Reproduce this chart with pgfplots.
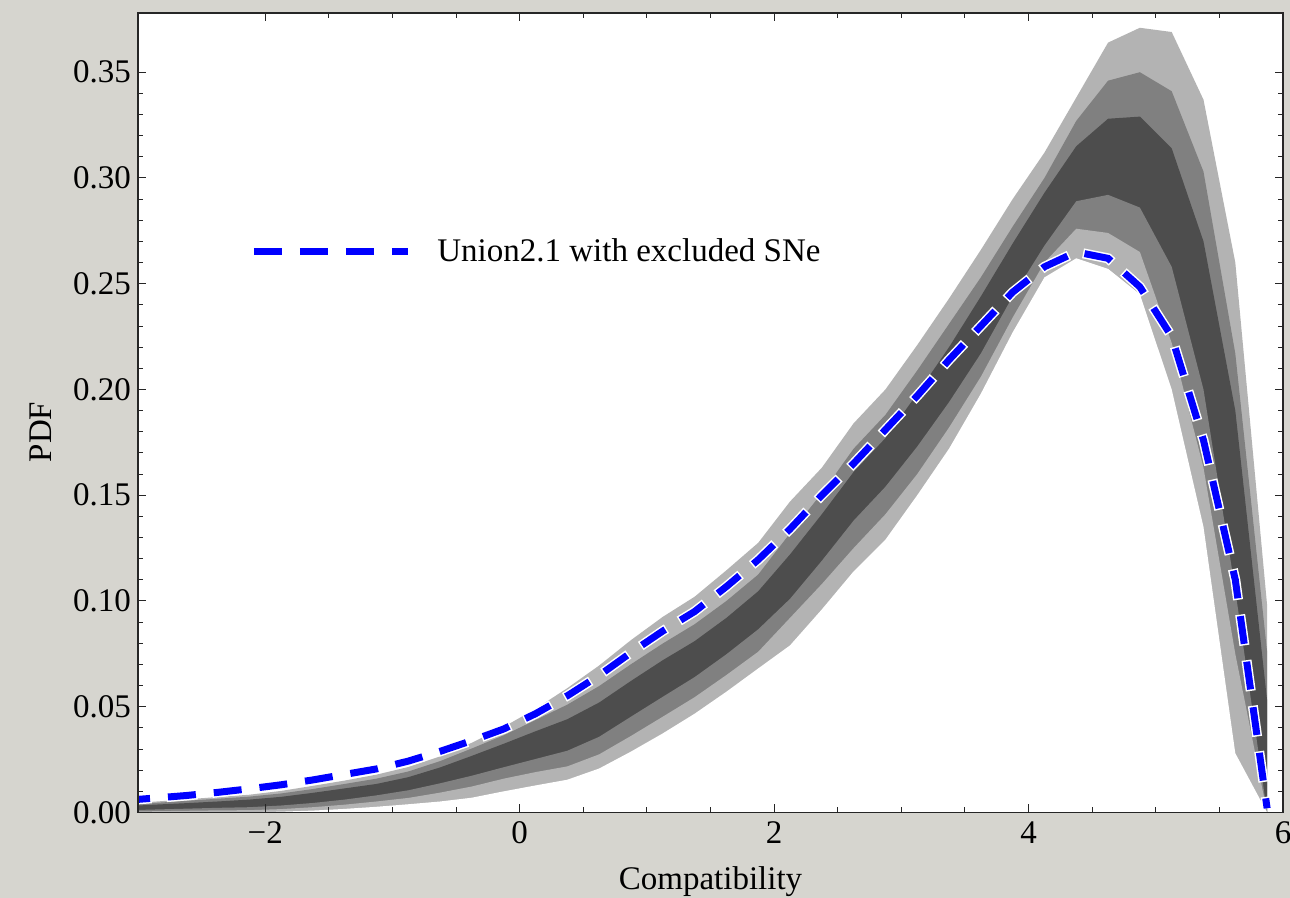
\documentclass[border=0pt]{standalone}
\usepackage{fontspec}
\setmainfont{Liberation Serif}
\usepackage{pgfplots}
\usepackage{pgfplotstable}
\pgfplotsset{compat=1.18}

\definecolor{pagebg}{RGB}{214,213,207}
\definecolor{bandlight}{RGB}{179,179,179}
\definecolor{bandmid}{RGB}{128,128,128}
\definecolor{banddark}{RGB}{77,77,77}
\definecolor{unionblue}{RGB}{0,0,255}

% Compatibility PDF: outer, middle and inner bands (upper/lower edges)
% and the Union2.1 curve with the excluded SNe
\pgfplotstableread{
x       lt      mt      dt      db      mb      lb      u21
-3.125  0.0041  0.0035  0.0029  0.0010  0.0004  0.0000  0.0056
-2.875  0.0051  0.0045  0.0037  0.0014  0.0006  0.0000  0.0068
-2.625  0.0062  0.0055  0.0044  0.0018  0.0008  0.0000  0.0080
-2.375  0.0073  0.0065  0.0052  0.0022  0.0010  0.0000  0.0095
-2.125  0.0084  0.0075  0.0061  0.0025  0.0011  0.0001  0.0112
-1.875  0.0102  0.0090  0.0074  0.0033  0.0016  0.0004  0.0131
-1.625  0.0126  0.0111  0.0093  0.0045  0.0025  0.0009  0.0154
-1.375  0.0151  0.0135  0.0114  0.0061  0.0037  0.0017  0.0180
-1.125  0.0179  0.0160  0.0135  0.0081  0.0052  0.0027  0.0206
-0.875  0.0215  0.0194  0.0167  0.0105  0.0069  0.0039  0.0243
-0.625  0.0265  0.0243  0.0213  0.0138  0.0094  0.0052  0.0289
-0.375  0.0330  0.0303  0.0268  0.0174  0.0123  0.0070  0.0340
-0.125  0.0405  0.0365  0.0325  0.0214  0.0160  0.0100  0.0395
 0.125  0.0490  0.0437  0.0384  0.0253  0.0191  0.0128  0.0467
 0.375  0.0588  0.0510  0.0441  0.0292  0.0218  0.0155  0.0552
 0.625  0.0695  0.0598  0.0520  0.0358  0.0275  0.0208  0.0648
 0.875  0.0815  0.0701  0.0622  0.0453  0.0362  0.0288  0.0756
 1.125  0.0925  0.0799  0.0720  0.0547  0.0453  0.0374  0.0858
 1.375  0.1020  0.0890  0.0810  0.0640  0.0545  0.0467  0.0950
 1.625  0.1145  0.1000  0.0920  0.0748  0.0650  0.0571  0.1068
 1.875  0.1275  0.1125  0.1046  0.0866  0.0760  0.0681  0.1195
 2.125  0.1470  0.1320  0.1220  0.1010  0.0920  0.0790  0.1340
 2.375  0.1630  0.1510  0.1410  0.1190  0.1080  0.0960  0.1500
 2.625  0.1840  0.1720  0.1610  0.1380  0.1250  0.1140  0.1650
 2.875  0.2000  0.1880  0.1770  0.1540  0.1410  0.1290  0.1810
 3.125  0.2210  0.2090  0.1980  0.1730  0.1600  0.1500  0.1970
 3.375  0.2430  0.2310  0.2200  0.1940  0.1820  0.1720  0.2140
 3.625  0.2660  0.2530  0.2440  0.2170  0.2060  0.1980  0.2300
 3.875  0.2900  0.2770  0.2690  0.2440  0.2340  0.2270  0.2460
 4.125  0.3120  0.3000  0.2930  0.2680  0.2600  0.2530  0.2580
 4.375  0.3380  0.3270  0.3150  0.2890  0.2760  0.2620  0.2650
 4.625  0.3640  0.3460  0.3280  0.2920  0.2740  0.2570  0.2620
 4.875  0.3710  0.3500  0.3290  0.2860  0.2650  0.2450  0.2485
 5.125  0.3690  0.3410  0.3140  0.2580  0.2220  0.2000  0.2250
 5.375  0.3370  0.3030  0.2700  0.2000  0.1630  0.1350  0.1760
 5.625  0.2600  0.2170  0.1900  0.1050  0.0750  0.0280  0.1100
 5.875  0.0980  0.0760  0.0530  0.0000  0.0000  0.0000  0.0020
}\pdfdata

\newcommand\labelfont{\fontsize{16.5}{20}\selectfont}

\begin{document}
\begin{tikzpicture}
\fill[pagebg] (0,0) rectangle (645pt,449pt);
\begin{axis}[
  at={(69pt,42.75pt)}, anchor=south west,
  scale only axis, width=572.5pt, height=399.75pt,
  xmin=-3, xmax=6, ymin=0, ymax=0.378,
  axis on top,
  axis background/.style={fill=white},
  axis line style={black!85, line width=0.6pt},
  xtick={-2,0,2,4,6}, xticklabels={−2,0,2,4,6},
  ytick={0,0.05,0.10,0.15,0.20,0.25,0.30,0.35},
  yticklabels={0.00,0.05,0.10,0.15,0.20,0.25,0.30,0.35},
  minor x tick num=3, minor y tick num=4,
  tick align=inside,
  major tick length=4pt, minor tick length=2.5pt,
  tick style={black!85, line width=0.5pt},
  every tick label/.append style={font=\labelfont},
  xticklabel style={yshift=-1pt},
  yticklabel style={xshift=0pt},
  xlabel={Compatibility}, ylabel={PDF},
  every axis x label/.style={at={(axis description cs:0.5,-0.0957)}, anchor=base, font=\labelfont},
  every axis y label/.style={at={(axis description cs:-0.0847,0.476)}, anchor=center, rotate=90, font=\labelfont},
  legend style={at={(axis cs:-2.12,0.265)}, anchor=west, draw=none, fill=none,
    inner sep=0pt, font=\labelfont, column sep=11pt},
  legend image code/.code={\draw[#1] (0pt,0pt) -- (77pt,0pt);},
]
% nested bands, painted from the outer upper edge down to the outer lower edge
\addplot[fill=bandlight, draw=none, forget plot] table[x=x, y=lt] {\pdfdata} \closedcycle;
\addplot[fill=bandmid,   draw=none, forget plot] table[x=x, y=mt] {\pdfdata} \closedcycle;
\addplot[fill=banddark,  draw=none, forget plot] table[x=x, y=dt] {\pdfdata} \closedcycle;
\addplot[fill=bandmid,   draw=none, forget plot] table[x=x, y=db] {\pdfdata} \closedcycle;
\addplot[fill=bandlight, draw=none, forget plot] table[x=x, y=mb] {\pdfdata} \closedcycle;
\addplot[fill=white,     draw=none, forget plot] table[x=x, y=lb] {\pdfdata} \closedcycle;
% white halo under the dashed curve
\addplot[white, line width=5pt, dash pattern=on 15.5pt off 7.5pt, dash phase=0.75pt, forget plot]
  table[x=x, y=u21] {\pdfdata};
\addplot[unionblue, line width=3.5pt, dash pattern=on 14pt off 9pt]
  table[x=x, y=u21] {\pdfdata};
\addlegendentry{Union2.1 with excluded SNe}
\end{axis}
\pgfresetboundingbox
\useasboundingbox (0,0) rectangle (645pt,449pt);
\end{tikzpicture}
\end{document}
